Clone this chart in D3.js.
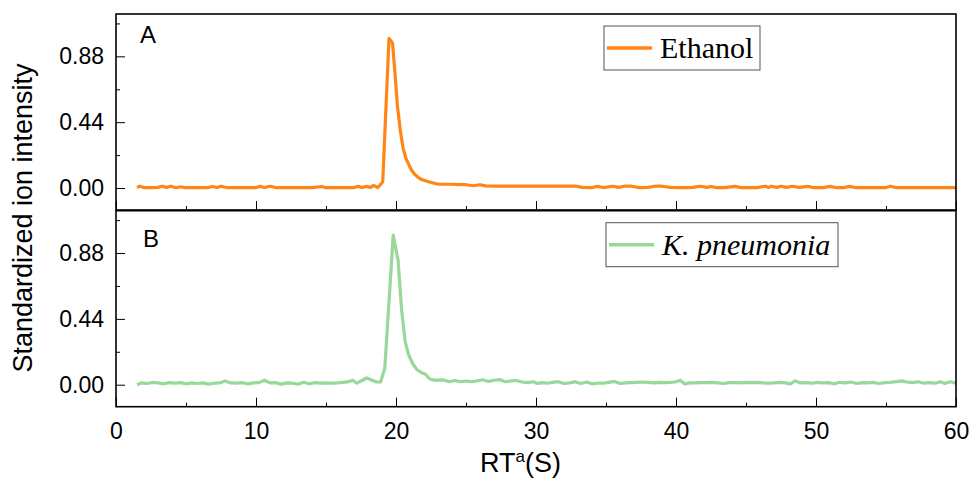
<!DOCTYPE html>
<html>
<head>
<meta charset="utf-8">
<script src="https://cdn.jsdelivr.net/npm/d3@7"></script>
<style>
  body { margin: 0; background: #fff; }
  svg { display: block; }
  .tick text { font-family: "Liberation Sans", Arial, sans-serif; }
</style>
</head>
<body>
<div id="chart"></div>
<script>
// retention time (s) and standardized intensity
var rtEthanol = [1.5, 1.7, 2.0, 2.5, 3.0, 3.3, 3.6, 3.9, 4.3, 4.6, 5.0, 5.5, 6.0, 6.5, 6.9, 7.2, 7.5, 7.9, 8.5, 9.0,
  9.5, 10.0, 10.3, 10.6, 11.0, 11.4, 12.0, 12.5, 13.0, 13.5, 14.0, 14.7, 15.0, 15.5, 16.0, 16.5, 17.0, 17.3, 17.6, 17.9,
  18.2, 18.4, 18.7, 19.05, 19.5, 19.75, 19.95, 20.1, 20.3, 20.5, 20.7, 20.9, 21.1, 21.35, 21.6, 21.8, 22.1, 22.4, 22.8, 23.1,
  23.5, 24.0, 24.5, 25.0, 25.5, 26.0, 26.4, 27.0, 28.0, 29.0, 30.0, 31.0, 32.0, 32.9, 33.3, 34.0, 34.4, 34.8, 35.5, 35.9,
  36.3, 36.8, 37.4, 38.0, 38.5, 39.0, 39.6, 40.2, 40.8, 41.2, 41.7, 42.2, 42.5, 42.9, 43.5, 44.2, 44.6, 45.2, 45.8, 46.4,
  46.6, 46.8, 47.2, 47.5, 47.9, 48.3, 48.8, 49.4, 49.8, 50.5, 51.0, 51.4, 52.0, 52.4, 52.8, 53.5, 54.2, 55.0, 55.3, 55.7,
  56.5, 57.5, 58.5, 60.0];
var ethanol = [0.002, 0.012, 0.003, 0.002, 0.004, 0.012, 0.004, 0.012, 0.002, 0.008, 0.002, 0.002, 0.002, 0.002, 0.010, 0.003, 0.012, 0.003, 0.002, 0.002,
  0.002, 0.003, 0.011, 0.003, 0.012, 0.003, 0.002, 0.002, 0.002, 0.002, 0.002, 0.010, 0.002, 0.002, 0.002, 0.002, 0.003, 0.011, 0.003, 0.011,
  0.003, 0.018, 0.003, 0.040, 1.000, 0.970, 0.740, 0.550, 0.390, 0.270, 0.200, 0.160, 0.120, 0.090, 0.070, 0.058, 0.048, 0.040, 0.030, 0.025,
  0.025, 0.025, 0.023, 0.022, 0.015, 0.022, 0.014, 0.013, 0.013, 0.013, 0.013, 0.013, 0.013, 0.012, 0.004, 0.003, 0.011, 0.003, 0.012, 0.004,
  0.012, 0.012, 0.003, 0.004, 0.012, 0.012, 0.004, 0.003, 0.003, 0.004, 0.012, 0.004, 0.010, 0.003, 0.003, 0.011, 0.003, 0.003, 0.003, 0.012,
  0.004, 0.012, 0.004, 0.012, 0.004, 0.012, 0.004, 0.011, 0.003, 0.003, 0.011, 0.003, 0.003, 0.011, 0.003, 0.003, 0.003, 0.003, 0.012, 0.003,
  0.002, 0.002, 0.002, 0.002];

var rtKp = [1.5, 1.8, 2.2, 2.6, 3.0, 3.4, 3.8, 4.2, 4.6, 5.0, 5.4, 5.8, 6.2, 6.6, 7.0, 7.4, 7.8, 8.2, 8.6, 9.0,
  9.4, 9.8, 10.2, 10.6, 11.0, 11.4, 11.8, 12.2, 12.6, 13.0, 13.4, 13.8, 14.2, 14.6, 15.0, 15.4, 15.8, 16.2, 16.6, 16.9,
  17.2, 17.6, 17.9, 18.3, 18.6, 18.9, 19.2, 19.8, 20.15, 20.4, 20.65, 20.9, 21.2, 21.5, 21.8, 22.1, 22.4, 22.7, 23.0, 23.4,
  23.8, 24.2, 24.6, 25.0, 25.4, 25.8, 26.2, 26.6, 27.0, 27.4, 27.8, 28.2, 28.6, 29.0, 29.4, 29.8, 30.1, 30.4, 30.8, 31.2,
  31.6, 32.0, 32.4, 32.8, 33.2, 33.6, 34.0, 34.4, 34.8, 35.2, 35.6, 36.0, 36.4, 36.8, 37.2, 37.6, 38.0, 38.4, 38.8, 39.2,
  39.6, 40.0, 40.3, 40.6, 41.0, 41.4, 41.8, 42.2, 42.6, 43.0, 43.4, 43.8, 44.2, 44.6, 45.0, 45.4, 45.8, 46.2, 46.6, 47.0,
  47.4, 47.8, 48.2, 48.5, 48.9, 49.3, 49.7, 50.1, 50.5, 50.9, 51.3, 51.7, 52.1, 52.5, 52.9, 53.3, 53.7, 54.1, 54.5, 54.9,
  55.3, 55.7, 56.1, 56.5, 56.9, 57.3, 57.7, 58.1, 58.5, 58.9, 59.2, 59.6, 60.0];
var kp = [0.000, 0.012, 0.008, 0.015, 0.012, 0.006, 0.014, 0.010, 0.014, 0.006, 0.012, 0.008, 0.012, 0.004, 0.010, 0.012, 0.025, 0.012, 0.010, 0.014,
  0.006, 0.012, 0.014, 0.030, 0.012, 0.014, 0.004, 0.012, 0.010, 0.004, 0.016, 0.006, 0.014, 0.010, 0.012, 0.010, 0.012, 0.016, 0.020, 0.030,
  0.010, 0.030, 0.045, 0.030, 0.018, 0.018, 0.110, 1.000, 0.830, 0.500, 0.290, 0.200, 0.140, 0.100, 0.082, 0.070, 0.040, 0.030, 0.030, 0.032,
  0.020, 0.028, 0.020, 0.025, 0.020, 0.026, 0.033, 0.022, 0.030, 0.034, 0.020, 0.025, 0.028, 0.018, 0.014, 0.020, 0.008, 0.014, 0.010, 0.016,
  0.020, 0.008, 0.012, 0.020, 0.008, 0.018, 0.006, 0.010, 0.010, 0.016, 0.022, 0.008, 0.012, 0.014, 0.016, 0.018, 0.016, 0.012, 0.016, 0.014,
  0.015, 0.020, 0.030, 0.006, 0.012, 0.012, 0.014, 0.014, 0.016, 0.012, 0.008, 0.014, 0.014, 0.012, 0.016, 0.014, 0.016, 0.012, 0.010, 0.012,
  0.016, 0.012, 0.006, 0.026, 0.012, 0.014, 0.010, 0.016, 0.012, 0.014, 0.006, 0.016, 0.012, 0.018, 0.008, 0.014, 0.012, 0.016, 0.008, 0.014,
  0.016, 0.020, 0.026, 0.018, 0.014, 0.020, 0.010, 0.014, 0.010, 0.020, 0.008, 0.020, 0.010];

var xTicks = [0, 10, 20, 30, 40, 50, 60];
var yTicks = [0.00, 0.44, 0.88];

var W = 973, H = 478;
var left = 116, plotW = 840;
var panelTop = [14, 210.7];
var panelH = 196;

var x = d3.scaleLinear().domain([0, 60]).range([left, left + plotW]);
var y = d3.scaleLinear().domain([-0.147, 1.163]).range([panelH, 0]);

var svg = d3.select("#chart").append("svg")
    .attr("width", W)
    .attr("height", H);

var panels = [
    {label: "A", labY: 29, rt: rtEthanol, vals: ethanol, color: "#ff8514", name: "Ethanol", italic: false, legW: 156},
    {label: "B", labY: 36, rt: rtKp, vals: kp, color: "#98d898", name: "K. pneumonia", italic: true, legW: 232}
];

var line = d3.line()
    .x(function(d) { return x(d[0]); })
    .y(function(d) { return y(d[1]); });

panels.forEach(function(p, i) {
    var g = svg.append("g").attr("transform", "translate(0," + panelTop[i] + ")");

    // data line
    var pts = p.rt.map(function(t, j) { return [t, p.vals[j]]; });
    g.append("path")
        .datum(pts)
        .attr("fill", "none")
        .attr("stroke", p.color)
        .attr("stroke-width", 3.2)
        .attr("stroke-linejoin", "round")
        .attr("d", line);

    // y axis, ticks pointing inward
    var yAx = g.append("g").attr("transform", "translate(" + left + ",0)")
        .call(d3.axisRight(y).tickValues(yTicks).tickSize(9).tickFormat(d3.format(".2f")));
    yAx.select(".domain").remove();
    yAx.selectAll(".tick text")
        .attr("x", -12)
        .attr("text-anchor", "end")
        .style("font-size", "23px")
        .attr("fill", "#000");
    g.append("g").attr("transform", "translate(" + left + ",0)")
        .call(d3.axisRight(y).tickValues([0.22, 0.66, 1.1]).tickSize(4).tickFormat(""))
        .select(".domain").remove();

    // x axis on bottom of each panel, ticks inward
    var xAx = g.append("g").attr("transform", "translate(0," + panelH + ")")
        .call(d3.axisTop(x).tickValues(xTicks).tickSize(9).tickFormat(i === 1 ? d3.format("d") : ""));
    xAx.select(".domain").remove();
    xAx.selectAll(".tick text")
        .attr("y", 24)
        .attr("dy", "0.35em")
        .style("font-size", "23px")
        .attr("fill", "#000");
    g.append("g").attr("transform", "translate(0," + panelH + ")")
        .call(d3.axisTop(x).tickValues([5, 15, 25, 35, 45, 55]).tickSize(4).tickFormat(""))
        .select(".domain").remove();

    // frame
    g.append("rect")
        .attr("x", left)
        .attr("y", 0)
        .attr("width", plotW)
        .attr("height", panelH)
        .attr("fill", "none")
        .attr("stroke", "#000")
        .attr("stroke-width", 1.6);

    // panel letter
    g.append("text")
        .attr("x", 140 + i * 3)
        .attr("y", p.labY)
        .style("font-family", "Liberation Sans, Arial, sans-serif")
        .style("font-size", "24px")
        .text(p.label);

    // legend
    var lx = 604 + i * 2, ly = 12;
    g.append("rect")
        .attr("x", lx).attr("y", ly)
        .attr("width", p.legW).attr("height", 44)
        .attr("fill", "#fff")
        .attr("stroke", "#555")
        .attr("stroke-width", 1);
    g.append("line")
        .attr("x1", lx + 3).attr("x2", lx + 48)
        .attr("y1", ly + 22).attr("y2", ly + 22)
        .attr("stroke", p.color)
        .attr("stroke-width", 3.5);
    g.append("text")
        .attr("x", lx + 56)
        .attr("y", ly + 32)
        .style("font-family", "Liberation Serif, Times New Roman, serif")
        .style("font-size", "30px")
        .style("font-style", p.italic ? "italic" : "normal")
        .text(p.name);
});

// axis titles
svg.append("text")
    .attr("transform", "translate(32,218) rotate(-90)")
    .attr("text-anchor", "middle")
    .style("font-family", "Liberation Sans, Arial, sans-serif")
    .style("font-size", "27px")
    .text("Standardized ion intensity");

var xt = svg.append("text")
    .attr("x", 480)
    .attr("y", 472)
    .style("font-family", "Liberation Sans, Arial, sans-serif")
    .style("font-size", "27px");
xt.append("tspan").text("RT");
xt.append("tspan").attr("dy", -10).style("font-size", "17px").text("a");
xt.append("tspan").attr("dy", 10).text("(S)");
</script>
</body>
</html>
